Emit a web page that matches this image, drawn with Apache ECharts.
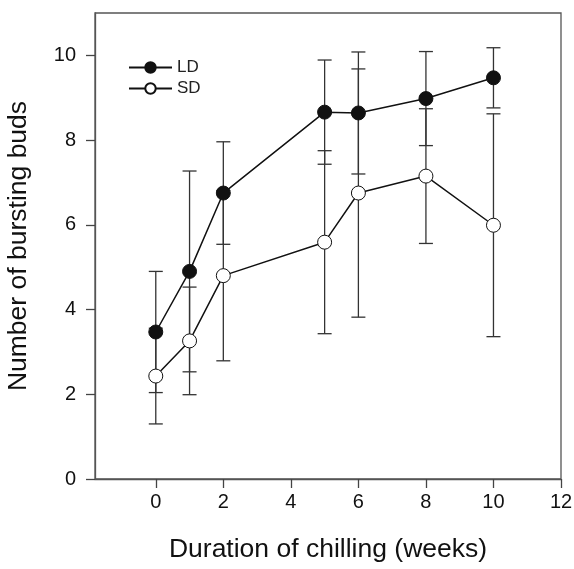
<!DOCTYPE html>
<html>
<head>
    <meta charset="UTF-8">
    <title>Bursting buds</title>
    <style>
        html, body { margin: 0; padding: 0; background: #fff; }
        #main { width: 574px; height: 569px; }
    </style>
</head>
<body>
<div id="main"></div>
<script src="https://cdn.jsdelivr.net/npm/echarts@6/dist/echarts.min.js"></script>
<script>
    // weeks of chilling
    var weeks = [0, 1, 2, 5, 6, 8, 10];
    // long day
    var ldMean = [3.47, 4.90, 6.75, 8.66, 8.64, 8.98, 9.47];
    var ldErr  = [1.43, 2.37, 1.21, 1.23, 1.44, 1.11, 0.71];
    // short day
    var sdMean = [2.43, 3.26, 4.80, 5.59, 6.75, 7.15, 5.99];
    var sdErr  = [1.13, 1.27, 2.01, 2.16, 2.93, 1.59, 2.63];

    var xTicks = [0, 2, 4, 6, 8, 10, 12];
    var yTicks = [0, 2, 4, 6, 8, 10];

    function pts(m) {
        return weeks.map(function (w, i) { return [w, m[i]]; });
    }
    function bars(m, e) {
        return weeks.map(function (w, i) { return [w, m[i] - e[i], m[i] + e[i]]; });
    }

    function errItem(params, api) {
        var x = api.value(0);
        var lo = api.coord([x, api.value(1)]);
        var hi = api.coord([x, api.value(2)]);
        var hw = 7;
        var st = { stroke: '#333', lineWidth: 1.3 };
        return {
            type: 'group',
            children: [
                { type: 'line', shape: { x1: lo[0], y1: lo[1], x2: hi[0], y2: hi[1] }, style: st },
                { type: 'line', shape: { x1: lo[0] - hw, y1: lo[1], x2: lo[0] + hw, y2: lo[1] }, style: st },
                { type: 'line', shape: { x1: hi[0] - hw, y1: hi[1], x2: hi[0] + hw, y2: hi[1] }, style: st }
            ]
        };
    }

    var chart = echarts.init(document.getElementById('main'));
    var axisCol = '#555';
    var font = 'Liberation Sans, Arial, sans-serif';

    chart.setOption({
        animation: false,
        textStyle: { fontFamily: font },
        grid: {
            left: 95, right: 13, top: 13, bottom: 90,
            outerBoundsMode: 'none', containLabel: false,
            show: true, borderColor: axisCol, borderWidth: 1.3
        },
        legend: {
            orient: 'vertical',
            left: 123, top: 54,
            itemWidth: 43, itemHeight: 13, itemGap: 4,
            textStyle: { fontSize: 17, color: '#222', fontFamily: font },
            data: ['LD', 'SD']
        },
        xAxis: {
            type: 'value', min: -1.8, max: 12,
            name: 'Duration of chilling (weeks)',
            nameLocation: 'middle', nameGap: 57,
            nameTextStyle: { fontSize: 26.5, color: '#111', fontFamily: font },
            axisLine: { onZero: false, lineStyle: { color: axisCol, width: 1.3 } },
            axisTick: { show: true, inside: false, length: 9, customValues: xTicks, lineStyle: { color: '#444', width: 1.3 } },
            axisLabel: { customValues: xTicks, fontSize: 20, color: '#111', margin: 13 },
            splitLine: { show: false }
        },
        yAxis: {
            type: 'value', min: 0, max: 11,
            name: 'Number of bursting buds',
            nameLocation: 'middle', nameGap: 63,
            nameTextStyle: { fontSize: 26.5, color: '#111', fontFamily: font },
            axisLine: { show: true, onZero: false, lineStyle: { color: axisCol, width: 1.3 } },
            axisTick: { show: true, length: 9, customValues: yTicks, lineStyle: { color: '#444', width: 1.3 } },
            axisLabel: { customValues: yTicks, fontSize: 20, color: '#111', margin: 19 },
            splitLine: { show: false }
        },
        series: [
            {
                type: 'custom', name: 'ldErr', renderItem: errItem,
                data: bars(ldMean, ldErr), z: 1, silent: true
            },
            {
                type: 'custom', name: 'sdErr', renderItem: errItem,
                data: bars(sdMean, sdErr), z: 1, silent: true
            },
            {
                type: 'line', name: 'SD', data: pts(sdMean), z: 3,
                symbol: 'circle', symbolSize: 14,
                lineStyle: { color: '#111', width: 1.5 },
                itemStyle: { color: '#fff', borderColor: '#111', borderWidth: 1 }
            },
            {
                type: 'line', name: 'LD', data: pts(ldMean), z: 4,
                symbol: 'circle', symbolSize: 14,
                lineStyle: { color: '#111', width: 1.5 },
                itemStyle: { color: '#111', borderColor: '#111', borderWidth: 1 }
            }
        ]
    });
</script>
</body>
</html>
